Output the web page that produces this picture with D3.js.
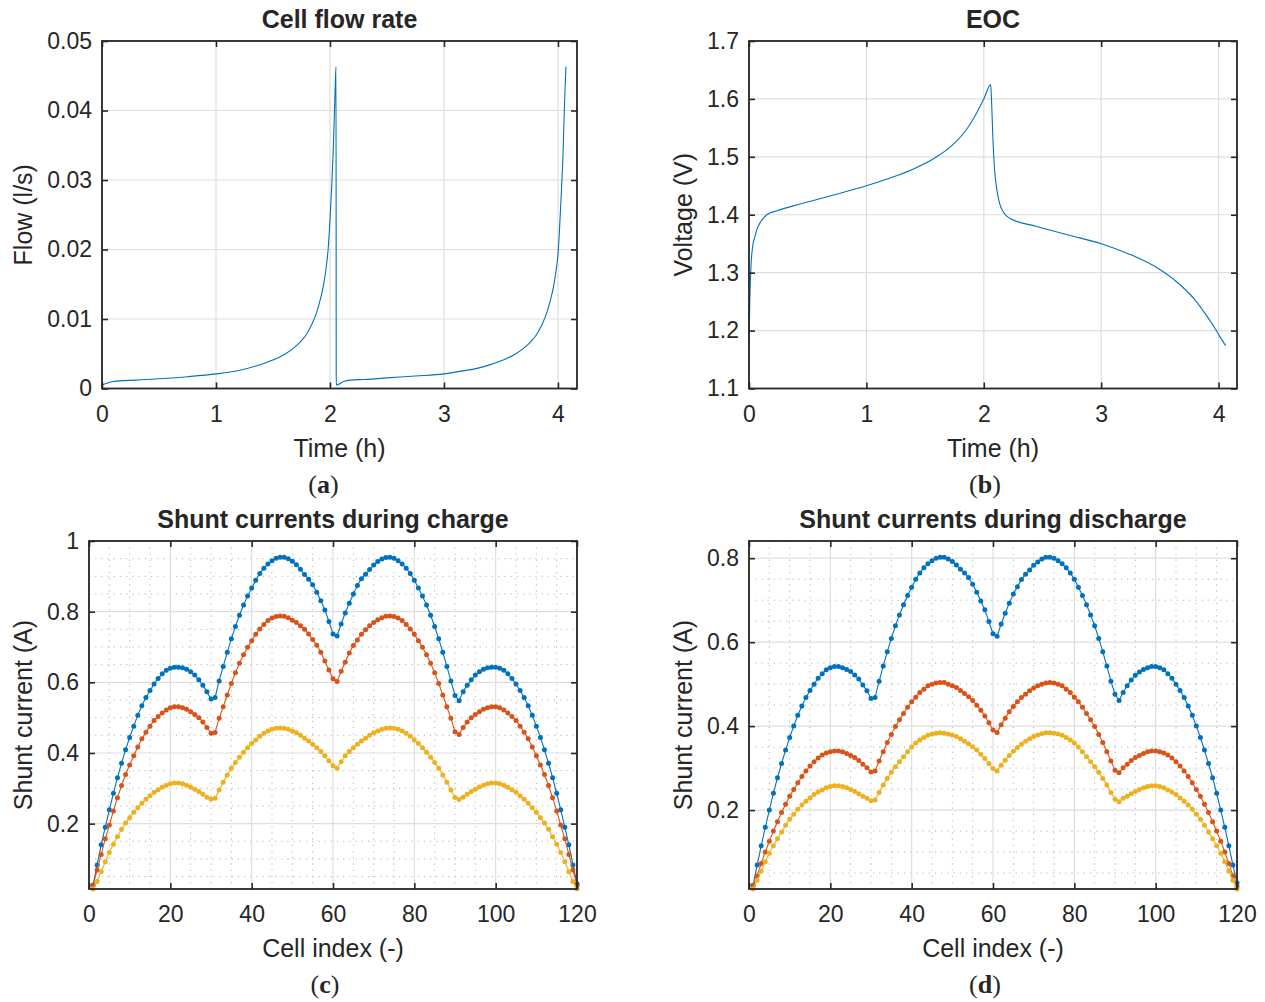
<!DOCTYPE html>
<html>
<head>
<meta charset="utf-8">
<script src="https://cdn.jsdelivr.net/npm/d3@7"></script>
<style>
body { margin: 0; background: #fff; }
text { font-family: "Liberation Sans", Arial, sans-serif; fill: #262626; }
.cap text, text.cap { font-family: "Liberation Serif", "Times New Roman", serif; }
</style>
</head>
<body>
<svg id="fig" width="1265" height="1002"></svg>
<script>
// ---- (a) cell flow rate
const flowTime = [0,0.05,0.1,0.15,0.3,0.5,0.75,1.0,1.2,1.4,1.5,1.6,1.68,1.75,1.79,1.84,1.88,1.91,1.94,1.965,1.983,2.0,2.015,2.028,2.037,2.045,2.053,
  2.055,2.12,2.18,2.3,2.53,2.75,3.0,3.15,3.29,3.4,3.52,3.62,3.7,3.77,3.81,3.86,3.9,3.93,3.96,3.985,4.003,4.02,4.032,4.045,4.053,4.062,4.07]
const flowRate = [0.0005,0.0008,0.0010,0.0011,0.0012,0.0014,0.0017,0.0021,0.0026,0.0035,0.0041,0.0049,0.0058,0.0069,0.0077,0.0092,0.0108,0.0125,0.0146,0.0172,0.0199,0.0242,0.029,0.034,0.0386,0.043,0.0463,
  0.0005,0.0010,0.0012,0.0013,0.00156,0.0018,0.0021,0.0025,0.0029,0.0034,0.0041,0.0049,0.0058,0.0069,0.0077,0.0092,0.0108,0.0125,0.0146,0.0172,0.0199,0.025,0.029,0.034,0.0386,0.043,0.0463]

// ---- (b) EOC
const eocTime = [0,0.007,0.017,0.031,0.05,0.066,0.1,0.152,0.24,0.445,0.72,1.0,1.238,1.41,1.583,1.72,1.859,1.945,2.003,2.059,
  2.066,2.076,2.09,2.107,2.134,2.169,2.221,2.445,2.72,3.0,3.24,3.48,3.65,3.79,3.89,3.96,4.01,4.06]
const eocVoltage = [1.173,1.253,1.311,1.345,1.362,1.374,1.388,1.400,1.407,1.419,1.434,1.450,1.466,1.480,1.498,1.518,1.549,1.578,1.601,1.625,
  1.598,1.541,1.483,1.449,1.420,1.404,1.394,1.380,1.365,1.350,1.332,1.308,1.283,1.255,1.228,1.207,1.190,1.174]

// ---- (c) shunt currents during charge, cells 1..120
const chargeHigh = [0.026,0.083,0.140,0.190,0.239,0.286,0.330,0.371,0.409,0.444,0.476,0.507,0.534,0.557,0.577,0.595,0.611,0.624,0.634,0.640,
  0.643,0.643,0.641,0.637,0.630,0.621,0.607,0.592,0.573,0.553,0.557,0.604,0.645,0.685,0.723,0.758,0.790,0.819,0.844,0.867,
  0.889,0.908,0.923,0.935,0.944,0.951,0.954,0.954,0.950,0.943,0.933,0.920,0.905,0.892,0.876,0.855,0.831,0.805,0.772,0.737,
  0.731,0.765,0.796,0.824,0.850,0.874,0.893,0.906,0.919,0.932,0.942,0.949,0.953,0.954,0.951,0.944,0.935,0.923,0.908,0.889,
  0.867,0.844,0.819,0.790,0.758,0.723,0.685,0.645,0.604,0.563,0.548,0.573,0.592,0.607,0.621,0.630,0.637,0.641,0.643,0.643,
  0.640,0.634,0.624,0.611,0.595,0.577,0.557,0.534,0.507,0.476,0.444,0.409,0.371,0.330,0.286,0.239,0.190,0.140,0.083,0.030]
const chargeMid = [0.025,0.069,0.113,0.157,0.196,0.236,0.273,0.308,0.339,0.366,0.392,0.417,0.440,0.459,0.476,0.492,0.503,0.513,0.522,0.528,
  0.531,0.531,0.528,0.524,0.517,0.509,0.500,0.488,0.472,0.456,0.458,0.498,0.531,0.564,0.597,0.627,0.654,0.678,0.699,0.718,
  0.736,0.751,0.764,0.775,0.782,0.786,0.788,0.787,0.783,0.776,0.769,0.760,0.750,0.737,0.721,0.705,0.685,0.660,0.635,0.610,
  0.602,0.631,0.657,0.683,0.704,0.720,0.736,0.749,0.760,0.769,0.777,0.783,0.787,0.788,0.786,0.782,0.775,0.764,0.751,0.736,
  0.718,0.699,0.678,0.654,0.627,0.597,0.564,0.531,0.498,0.460,0.452,0.472,0.488,0.500,0.509,0.517,0.524,0.528,0.531,0.531,
  0.528,0.522,0.513,0.503,0.492,0.476,0.459,0.440,0.417,0.392,0.366,0.339,0.308,0.273,0.236,0.196,0.157,0.113,0.069,0.025]
const chargeLow = [0.015,0.036,0.064,0.092,0.118,0.142,0.163,0.184,0.202,0.217,0.232,0.245,0.258,0.269,0.279,0.289,0.296,0.303,0.309,0.313,
  0.315,0.315,0.313,0.309,0.304,0.297,0.291,0.283,0.275,0.270,0.272,0.295,0.317,0.338,0.357,0.373,0.388,0.402,0.415,0.427,
  0.437,0.447,0.456,0.462,0.467,0.470,0.471,0.470,0.467,0.462,0.457,0.450,0.442,0.434,0.425,0.415,0.404,0.392,0.378,0.364,
  0.357,0.375,0.392,0.404,0.415,0.425,0.434,0.442,0.450,0.457,0.462,0.467,0.470,0.471,0.470,0.467,0.462,0.456,0.447,0.437,
  0.427,0.415,0.402,0.388,0.373,0.357,0.338,0.317,0.295,0.274,0.268,0.275,0.283,0.291,0.297,0.304,0.309,0.313,0.315,0.315,
  0.313,0.309,0.303,0.296,0.289,0.279,0.269,0.258,0.245,0.232,0.217,0.202,0.184,0.163,0.142,0.118,0.092,0.064,0.036,0.015]

// ---- (d) shunt currents during discharge, cells 1..120
const dischargeHigh = [0.020,0.069,0.115,0.159,0.200,0.240,0.277,0.311,0.343,0.373,0.400,0.426,0.448,0.468,0.485,0.500,0.514,0.525,0.534,0.539,
  0.542,0.542,0.539,0.535,0.530,0.522,0.512,0.498,0.484,0.466,0.468,0.507,0.543,0.577,0.609,0.639,0.665,0.689,0.711,0.731,
  0.750,0.765,0.777,0.787,0.794,0.800,0.802,0.802,0.798,0.792,0.784,0.774,0.765,0.754,0.738,0.719,0.698,0.677,0.649,0.620,
  0.614,0.643,0.669,0.693,0.715,0.732,0.749,0.762,0.772,0.783,0.791,0.798,0.802,0.802,0.800,0.794,0.787,0.777,0.765,0.750,
  0.731,0.711,0.689,0.665,0.639,0.609,0.577,0.543,0.507,0.476,0.461,0.480,0.496,0.510,0.521,0.529,0.535,0.539,0.542,0.542,
  0.539,0.534,0.525,0.514,0.500,0.485,0.468,0.448,0.426,0.400,0.373,0.343,0.311,0.277,0.240,0.200,0.159,0.115,0.069,0.026]
const dischargeMid = [0.021,0.043,0.073,0.100,0.126,0.150,0.172,0.194,0.214,0.233,0.249,0.265,0.280,0.293,0.305,0.315,0.324,0.331,0.336,0.339,
  0.341,0.341,0.339,0.335,0.330,0.325,0.318,0.309,0.301,0.291,0.293,0.317,0.339,0.361,0.380,0.399,0.415,0.430,0.445,0.458,
  0.469,0.480,0.488,0.496,0.500,0.503,0.504,0.504,0.500,0.496,0.492,0.485,0.478,0.470,0.461,0.450,0.438,0.424,0.408,0.391,
  0.385,0.403,0.419,0.434,0.447,0.458,0.468,0.476,0.484,0.491,0.496,0.500,0.503,0.504,0.503,0.500,0.496,0.488,0.480,0.469,
  0.458,0.445,0.430,0.415,0.399,0.380,0.361,0.339,0.317,0.295,0.289,0.301,0.309,0.318,0.325,0.330,0.335,0.339,0.341,0.341,
  0.339,0.336,0.331,0.324,0.315,0.305,0.293,0.280,0.265,0.249,0.233,0.214,0.194,0.172,0.150,0.126,0.100,0.073,0.043,0.018]
const dischargeLow = [0.012,0.033,0.055,0.077,0.097,0.115,0.132,0.148,0.164,0.178,0.190,0.202,0.212,0.221,0.229,0.237,0.243,0.248,0.253,0.256,
  0.258,0.258,0.256,0.253,0.249,0.244,0.239,0.233,0.228,0.222,0.224,0.242,0.260,0.275,0.290,0.303,0.315,0.327,0.339,0.350,
  0.360,0.367,0.373,0.378,0.381,0.383,0.384,0.383,0.381,0.379,0.375,0.370,0.364,0.358,0.351,0.343,0.333,0.323,0.311,0.299,
  0.293,0.307,0.319,0.330,0.340,0.349,0.357,0.364,0.370,0.375,0.379,0.382,0.384,0.384,0.383,0.381,0.378,0.373,0.367,0.360,
  0.350,0.339,0.327,0.315,0.303,0.290,0.275,0.260,0.242,0.226,0.220,0.228,0.233,0.239,0.244,0.249,0.253,0.256,0.258,0.258,
  0.256,0.253,0.248,0.243,0.237,0.229,0.221,0.212,0.202,0.190,0.178,0.164,0.148,0.132,0.115,0.097,0.077,0.055,0.033,0.012]

const cellIndex = d3.range(1, 121)
const timeTicks = [0, 1, 2, 3, 4]
const cellTicks = [0, 20, 40, 60, 80, 100, 120]

var seriesColors = ["#0072BD", "#D95319", "#EDB120"]
var axisColor = "#262626", gridColor = "#dedede", minorColor = "#b4b4b4"
var svg = d3.select("#fig")

function drawPanel(p) {
    var w = p.right - p.left, h = p.bottom - p.top
    var g = svg.append("g").attr("transform", "translate(" + p.left + "," + p.top + ")")
    var x = d3.scaleLinear().domain(p.xDomain).range([0, w])
    var y = d3.scaleLinear().domain(p.yDomain).range([h, 0])

    // minor grid (dotted)
    if (p.xMinor) {
        g.append("g").selectAll("line").data(p.xMinor).join("line")
            .attr("x1", d => x(d)).attr("x2", d => x(d)).attr("y1", 0).attr("y2", h)
            .attr("stroke", minorColor).attr("stroke-width", 1).attr("stroke-dasharray", "1.2,5")
        g.append("g").selectAll("line").data(p.yMinor).join("line")
            .attr("y1", d => y(d)).attr("y2", d => y(d)).attr("x1", 0).attr("x2", w)
            .attr("stroke", minorColor).attr("stroke-width", 1).attr("stroke-dasharray", "1.2,5")
    }
    // major grid
    g.append("g").selectAll("line").data(p.xTicks).join("line")
        .attr("x1", d => x(d)).attr("x2", d => x(d)).attr("y1", 0).attr("y2", h)
        .attr("stroke", gridColor).attr("stroke-width", 1.2)
    g.append("g").selectAll("line").data(p.yTicks).join("line")
        .attr("y1", d => y(d)).attr("y2", d => y(d)).attr("x1", 0).attr("x2", w)
        .attr("stroke", gridColor).attr("stroke-width", 1.2)

    // data
    p.series.forEach((s, i) => {
        var line = d3.line().x(d => x(d[0])).y(d => y(d[1])).curve(s.smooth ? d3.curveMonotoneX : d3.curveLinear)
        var pts = s.x.map((v, k) => [v, s.y[k]])
        g.append("path").datum(pts).attr("d", line).attr("fill", "none")
            .attr("stroke", s.color).attr("stroke-width", 1.1)
        if (s.markers) {
            g.append("g").selectAll("circle").data(pts).join("circle")
                .attr("cx", d => x(d[0])).attr("cy", d => y(d[1])).attr("r", 2.5).attr("fill", s.color)
        }
    })

    // ticks inward on all four sides
    var tickFont = 23
    var ax = g.append("g").attr("transform", "translate(0," + h + ")")
        .call(d3.axisBottom(x).tickValues(p.xTicks).tickSizeInner(-6).tickSizeOuter(0).tickPadding(17).tickFormat(p.xFormat))
    var ay = g.append("g")
        .call(d3.axisLeft(y).tickValues(p.yTicks).tickSizeInner(-6).tickSizeOuter(0).tickPadding(10).tickFormat(p.yFormat))
    var at = g.append("g").call(d3.axisTop(x).tickValues(p.xTicks).tickSizeInner(-6).tickSizeOuter(0).tickFormat(""))
    var ar = g.append("g").attr("transform", "translate(" + w + ",0)")
        .call(d3.axisRight(y).tickValues(p.yTicks).tickSizeInner(-6).tickSizeOuter(0).tickFormat(""))
    ;[ax, ay, at, ar].forEach(a => {
        a.select(".domain").remove()
        a.selectAll("line").attr("stroke", axisColor).attr("stroke-width", 1.6)
        a.selectAll("text").attr("font-size", tickFont).attr("font-family", null).attr("fill", axisColor)
    })

    // box
    g.append("rect").attr("width", w).attr("height", h).attr("fill", "none")
        .attr("stroke", axisColor).attr("stroke-width", 1.8)

    // title, labels, caption
    g.append("text").attr("x", w / 2).attr("y", -13).attr("text-anchor", "middle")
        .attr("font-size", 25).attr("font-weight", "bold").attr("fill", "#000").text(p.title)
    g.append("text").attr("x", w / 2).attr("y", h + 68).attr("text-anchor", "middle")
        .attr("font-size", 25).text(p.xLabel)
    g.append("text").attr("transform", "translate(" + (p.yLabelX - p.left) + "," + (h / 2) + ") rotate(-90)")
        .attr("text-anchor", "middle").attr("font-size", 25).text(p.yLabel)
    var cap = g.append("text").attr("class", "cap").attr("x", w / 2 + p.capShift).attr("y", h + 104)
        .attr("text-anchor", "middle").attr("font-size", 26).attr("fill", "#000")
    cap.append("tspan").text("(")
    cap.append("tspan").attr("font-weight", "bold").text(p.caption)
    cap.append("tspan").text(")")
}

var cellMinorX = d3.range(5, 120, 5).filter(v => v % 20 !== 0)
var fmt2 = d => d === 0 ? "0" : d3.format(".2f")(d)

drawPanel({
    left: 102, right: 577, top: 41, bottom: 388.5, yLabelX: 32, capShift: -16,
    xDomain: [0, 4.167], yDomain: [0, 0.05],
    xTicks: timeTicks, yTicks: [0, 0.01, 0.02, 0.03, 0.04, 0.05],
    xFormat: d3.format("d"), yFormat: fmt2,
    title: "Cell flow rate", xLabel: "Time (h)", yLabel: "Flow (l/s)", caption: "a",
    series: [{ x: flowTime, y: flowRate, color: seriesColors[0], smooth: true }]
})
drawPanel({
    left: 749, right: 1237, top: 41, bottom: 388.5, yLabelX: 692, capShift: -8,
    xDomain: [0, 4.157], yDomain: [1.1, 1.7],
    xTicks: timeTicks, yTicks: [1.1, 1.2, 1.3, 1.4, 1.5, 1.6, 1.7],
    xFormat: d3.format("d"), yFormat: d3.format(".1f"),
    title: "EOC", xLabel: "Time (h)", yLabel: "Voltage (V)", caption: "b",
    series: [{ x: eocTime, y: eocVoltage, color: seriesColors[0], smooth: true }]
})
drawPanel({
    left: 89, right: 577, top: 541, bottom: 889, yLabelX: 32, capShift: -8,
    xDomain: [0, 120], yDomain: [0.015, 1],
    xTicks: cellTicks, yTicks: [0.2, 0.4, 0.6, 0.8, 1],
    xMinor: cellMinorX, yMinor: d3.range(1, 20).filter(i => i % 4 !== 0).map(i => i * 0.05),
    xFormat: d3.format("d"), yFormat: d => d === 1 ? "1" : d3.format(".1f")(d),
    title: "Shunt currents during charge", xLabel: "Cell index (-)", yLabel: "Shunt current (A)", caption: "c",
    series: [chargeHigh, chargeMid, chargeLow].map((v, i) => ({ x: cellIndex, y: v, color: seriesColors[i], markers: true }))
})
drawPanel({
    left: 749, right: 1237, top: 541, bottom: 889, yLabelX: 692, capShift: -8,
    xDomain: [0, 120], yDomain: [0.012, 0.841],
    xTicks: cellTicks, yTicks: [0.2, 0.4, 0.6, 0.8],
    xMinor: cellMinorX, yMinor: d3.range(1, 17).filter(i => i % 4 !== 0).map(i => i * 0.05),
    xFormat: d3.format("d"), yFormat: d3.format(".1f"),
    title: "Shunt currents during discharge", xLabel: "Cell index (-)", yLabel: "Shunt current (A)", caption: "d",
    series: [dischargeHigh, dischargeMid, dischargeLow].map((v, i) => ({ x: cellIndex, y: v, color: seriesColors[i], markers: true }))
})
</script>
</body>
</html>
